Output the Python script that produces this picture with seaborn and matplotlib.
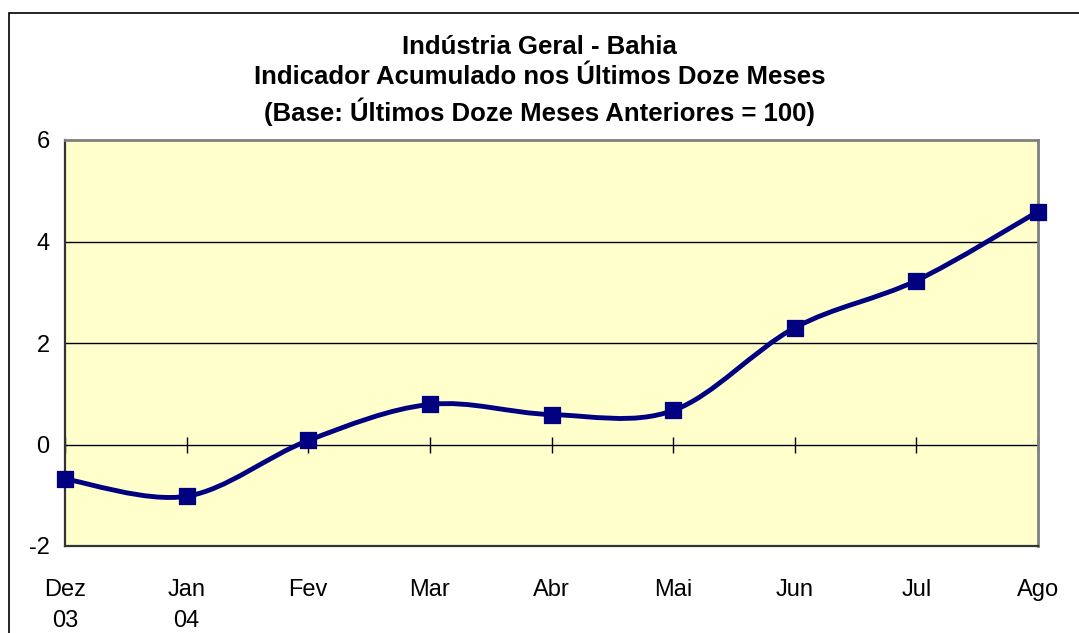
import numpy as np
import matplotlib
matplotlib.use("Agg")
import matplotlib.pyplot as plt
import seaborn as sns
from matplotlib.path import Path
from matplotlib.patches import PathPatch, Rectangle

meses = ["Dez\n03", "Jan\n04", "Fev", "Mar", "Abr", "Mai", "Jun", "Jul", "Ago"]
indicador = [-0.68, -1.02, 0.08, 0.79, 0.59, 0.67, 2.30, 3.23, 4.59]
yticks = [-2, 0, 2, 4, 6]

titulo = ("Indústria Geral - Bahia\n"
          "Indicador Acumulado nos Últimos Doze Meses\n"
          "(Base: Últimos Doze Meses Anteriores = 100)")

sns.set_style("white")
plt.rcParams['font.family'] = ['Liberation Sans', 'DejaVu Sans']
plt.rcParams['text.color'] = 'black'
plt.rcParams['xtick.color'] = 'black'
plt.rcParams['ytick.color'] = 'black'

fig = plt.figure(figsize=(10.79, 6.33), dpi=100)
ax = fig.add_axes([65 / 1079, 87 / 633, (1038 - 65) / 1079, (546 - 140) / 633])
ax.set_facecolor("#FFFFCC")

x = np.arange(len(meses))
y = np.array(indicador)

# curva suavizada estilo Excel (bezier)
xp = np.concatenate([[x[0]], x, [x[-1]]])
yp = np.concatenate([[y[0]], y, [y[-1]]])
verts = [(x[0], y[0])]
codes = [Path.MOVETO]
for i in range(1, len(xp) - 2):
    c1 = (xp[i] + (xp[i + 1] - xp[i - 1]) / 6, yp[i] + (yp[i + 1] - yp[i - 1]) / 6)
    c2 = (xp[i + 1] - (xp[i + 2] - xp[i]) / 6, yp[i + 1] - (yp[i + 2] - yp[i]) / 6)
    verts += [c1, c2, (xp[i + 1], yp[i + 1])]
    codes += [Path.CURVE4] * 3
ax.add_patch(PathPatch(Path(verts, codes), facecolor="none", edgecolor="#000080",
                       lw=3.5, zorder=3, clip_on=False))

sns.scatterplot(x=x, y=y, marker="s", s=130, color="#000080", edgecolor="#000080",
                ax=ax, zorder=4, clip_on=False)

ax.set_xlim(0, len(meses) - 1)
ax.set_ylim(-2, 6)
ax.set_yticks(yticks)
ax.set_yticklabels([str(t) for t in yticks], fontsize=17)
ax.set_xticks(x)
ax.set_xticklabels(meses, fontsize=17, linespacing=1.5)
ax.tick_params(axis="x", length=0, pad=24)
ax.tick_params(axis="y", length=5, width=1, direction="out", pad=6)

for t in [0, 2, 4]:
    ax.axhline(t, color="black", lw=1, zorder=1)

# marcas do eixo em y=0
sec = ax.secondary_xaxis(0.25)
sec.set_xticks(x)
sec.set_xticklabels([])
sec.tick_params(length=12, direction="inout", width=1)
sec.spines["bottom"].set_visible(False)

for s in ["left", "bottom"]:
    ax.spines[s].set_color("#333333")
    ax.spines[s].set_linewidth(1.6)
for s in ["top", "right"]:
    ax.spines[s].set_color("#808080")
    ax.spines[s].set_linewidth(2)

fig.text(0.5, 0.945, titulo, ha="center", va="top", fontsize=18.5,
         fontweight="bold", linespacing=1.35)

fig.patches.append(Rectangle((9 / 1079, -0.05), 1.2, (633 - 13) / 633 + 0.05,
                             transform=fig.transFigure, fill=False,
                             edgecolor="black", lw=1.2))

fig.savefig("out.png", dpi=100)
